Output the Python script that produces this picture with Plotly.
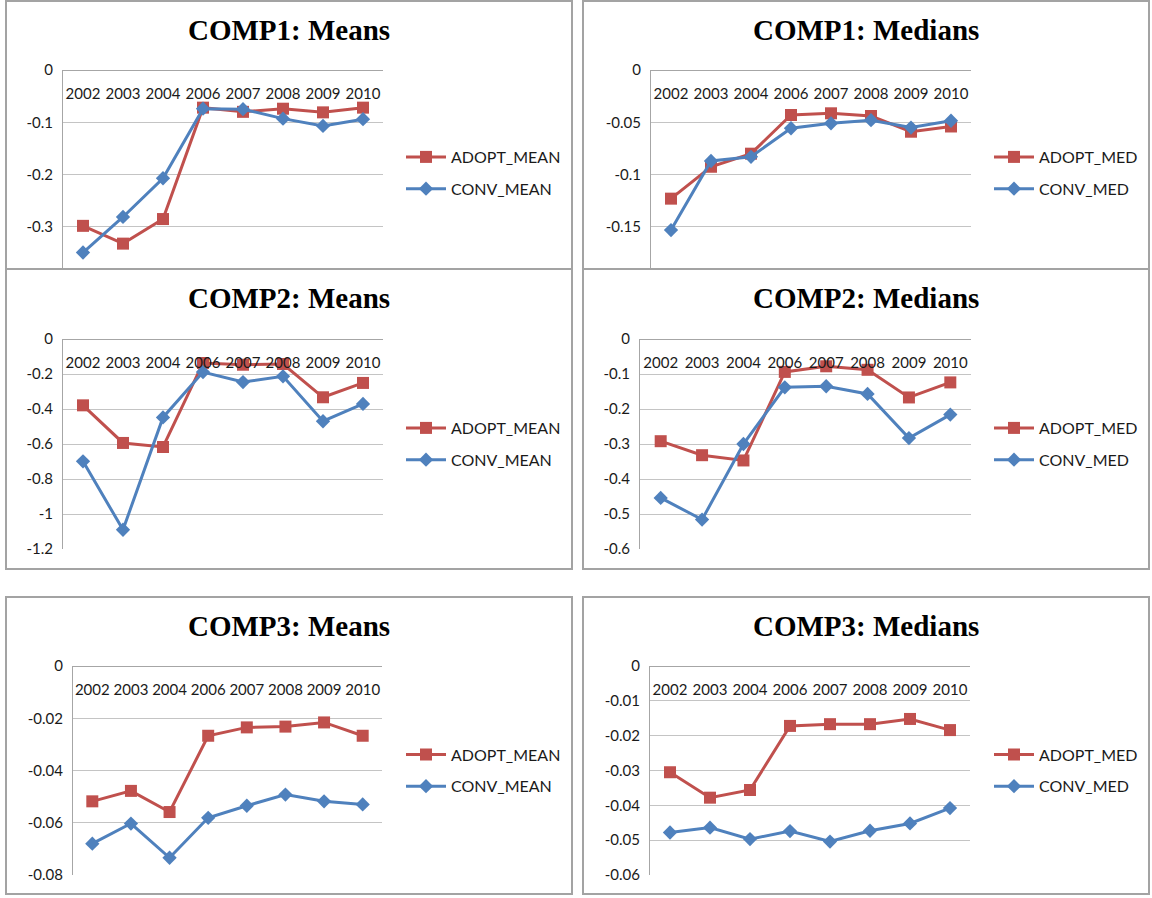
import plotly.graph_objects as go

# ---------------- data ----------------
years = ["2002", "2003", "2004", "2006", "2007", "2008", "2009", "2010"]

adopt_mean1 = [-0.298, -0.332, -0.285, -0.072, -0.080, -0.074, -0.081, -0.072]
conv_mean1 = [-0.349, -0.281, -0.207, -0.074, -0.075, -0.093, -0.107, -0.094]

adopt_med1 = [-0.123, -0.0925, -0.080, -0.043, -0.0414, -0.044, -0.059, -0.054]
conv_med1 = [-0.153, -0.087, -0.083, -0.0557, -0.051, -0.048, -0.055, -0.0485]

adopt_mean2 = [-0.379, -0.594, -0.617, -0.137, -0.147, -0.143, -0.333, -0.251]
conv_mean2 = [-0.699, -1.090, -0.448, -0.189, -0.246, -0.213, -0.470, -0.371]

adopt_med2 = [-0.292, -0.332, -0.347, -0.094, -0.078, -0.088, -0.167, -0.124]
conv_med2 = [-0.454, -0.516, -0.300, -0.138, -0.135, -0.157, -0.283, -0.216]

adopt_mean3 = [-0.0518, -0.0478, -0.0559, -0.0267, -0.0235, -0.0232, -0.0216, -0.0267]
conv_mean3 = [-0.0680, -0.0603, -0.0734, -0.0581, -0.0535, -0.0492, -0.0518, -0.0530]

adopt_med3 = [-0.0305, -0.0378, -0.0356, -0.0172, -0.0167, -0.0167, -0.0152, -0.0184]
conv_med3 = [-0.0478, -0.0464, -0.0497, -0.0474, -0.0504, -0.0473, -0.0452, -0.0408]

titles = ["COMP1: Means", "COMP1: Medians", "COMP2: Means",
          "COMP2: Medians", "COMP3: Means", "COMP3: Medians"]

yticks1m = [0, -0.1, -0.2, -0.3]
ylabels1m = ["0", "-0.1", "-0.2", "-0.3"]
yticks1d = [0, -0.05, -0.1, -0.15]
ylabels1d = ["0", "-0.05", "-0.1", "-0.15"]
yticks2m = [0, -0.2, -0.4, -0.6, -0.8, -1.0, -1.2]
ylabels2m = ["0", "-0.2", "-0.4", "-0.6", "-0.8", "-1", "-1.2"]
yticks2d = [0, -0.1, -0.2, -0.3, -0.4, -0.5, -0.6]
ylabels2d = ["0", "-0.1", "-0.2", "-0.3", "-0.4", "-0.5", "-0.6"]
yticks3m = [0, -0.02, -0.04, -0.06, -0.08]
ylabels3m = ["0", "-0.02", "-0.04", "-0.06", "-0.08"]
yticks3d = [0, -0.01, -0.02, -0.03, -0.04, -0.05, -0.06]
ylabels3d = ["0", "-0.01", "-0.02", "-0.03", "-0.04", "-0.05", "-0.06"]

# ---------------- layout helpers ----------------
W, H = 1152, 898
RED = "#c0504d"
BLUE = "#4f81bd"
TICKFONT = dict(family="Lato, Open Sans, sans-serif", size=15, color="#1a1a1a")
LEGFONT = dict(family="Lato, Open Sans, sans-serif", size=16, color="#1a1a1a")
TITLEFONT = dict(family="Liberation Serif, Times New Roman, serif", size=29, color="#000000")


def px(x):
    return x / W


def py(y):
    return 1 - y / H


panels = [
    dict(box=(6, 1, 572, 269), plot=(63, 383, 70, 268), yr=(-0.3786, 0),
         tv=yticks1m, tt=ylabels1m, names=("ADOPT_MEAN", "CONV_MEAN"),
         data=(adopt_mean1, conv_mean1), leg=(401, 173)),
    dict(box=(583, 1, 1149, 269), plot=(651, 971, 70, 268), yr=(-0.1893, 0),
         tv=yticks1d, tt=ylabels1d, names=("ADOPT_MED", "CONV_MED"),
         data=(adopt_med1, conv_med1), leg=(989, 173)),
    dict(box=(6, 269, 572, 569), plot=(63, 383, 339, 549), yr=(-1.2, 0),
         tv=yticks2m, tt=ylabels2m, names=("ADOPT_MEAN", "CONV_MEAN"),
         data=(adopt_mean2, conv_mean2), leg=(401, 444)),
    dict(box=(583, 269, 1149, 569), plot=(640, 971, 339, 549), yr=(-0.6, 0),
         tv=yticks2d, tt=ylabels2d, names=("ADOPT_MED", "CONV_MED"),
         data=(adopt_med2, conv_med2), leg=(989, 444)),
    dict(box=(6, 597, 572, 894), plot=(73, 382, 666, 875), yr=(-0.08, 0),
         tv=yticks3m, tt=ylabels3m, names=("ADOPT_MEAN", "CONV_MEAN"),
         data=(adopt_mean3, conv_mean3), leg=(401, 770.5)),
    dict(box=(583, 597, 1149, 894), plot=(650, 970, 666, 875), yr=(-0.06, 0),
         tv=yticks3d, tt=ylabels3d, names=("ADOPT_MED", "CONV_MED"),
         data=(adopt_med3, conv_med3), leg=(989, 770.5)),
]

fig = go.Figure()
layout = dict(
    width=W, height=H, margin=dict(l=0, r=0, t=0, b=0, autoexpand=False),
    paper_bgcolor="white", plot_bgcolor="rgba(0,0,0,0)",
    shapes=[], annotations=[], showlegend=True,
)

for i, p in enumerate(panels):
    n = i + 1
    sfx = "" if n == 1 else str(n)
    xa, ya = "x" + sfx, "y" + sfx
    leg = "legend" + sfx
    bx0, by0, bx1, by1 = p["box"]
    x0, x1, yt, yb = p["plot"]

    layout["shapes"].append(dict(
        type="rect", xref="paper", yref="paper",
        x0=px(bx0), x1=px(bx1), y0=py(by1), y1=py(by0),
        line=dict(color="#a3a3a3", width=2), fillcolor="white", layer="below"))

    layout["annotations"].append(dict(
        text="<b>%s</b>" % titles[i], xref="paper", yref="paper",
        x=px((bx0 + bx1) / 2), y=py(by0 + 29), xanchor="center", yanchor="middle",
        showarrow=False, font=TITLEFONT))

    layout["xaxis" + sfx] = dict(
        domain=[px(x0), px(x1)], type="category", range=[-0.5, 7.5],
        anchor="free", position=py(yt), side="bottom", automargin=False,
        showline=True, linecolor="#a6a6a6", linewidth=1,
        showgrid=False, ticks="", tickfont=TICKFONT, ticklabelstandoff=10,
        fixedrange=True)
    layout["yaxis" + sfx] = dict(
        domain=[py(yb), py(yt)], range=list(p["yr"]), anchor=xa, automargin=False,
        showline=True, linecolor="#a6a6a6", linewidth=1,
        showgrid=True, gridcolor="#c4c4c4", gridwidth=1, zeroline=False,
        tickmode="array", tickvals=p["tv"], ticktext=p["tt"],
        ticks="", tickfont=TICKFONT, ticklabelstandoff=6, fixedrange=True)

    lx, lymid = p["leg"]
    layout[leg] = dict(
        x=px(lx), y=py(lymid), xanchor="left", yanchor="middle",
        xref="container", yref="container",
        font=LEGFONT, bgcolor="rgba(0,0,0,0)", itemwidth=40,
        traceorder="grouped", tracegroupgap=8)

    adopt, conv = p["data"]
    fig.add_trace(go.Scatter(
        x=years, y=adopt, name=p["names"][0], mode="lines+markers",
        line=dict(color=RED, width=3),
        marker=dict(symbol="square", size=12, color=RED),
        xaxis=xa, yaxis=ya, legend=leg, legendgroup="a%d" % n))
    fig.add_trace(go.Scatter(
        x=years, y=conv, name=p["names"][1], mode="lines+markers",
        line=dict(color=BLUE, width=3),
        marker=dict(symbol="diamond", size=11, color=BLUE),
        xaxis=xa, yaxis=ya, legend=leg, legendgroup="c%d" % n))

fig.update_layout(**layout)
fig.write_html(
    "out.html",
    config={"displayModeBar": False},
    post_script="document.body.style.margin='0';document.body.style.overflow='hidden';",
)
